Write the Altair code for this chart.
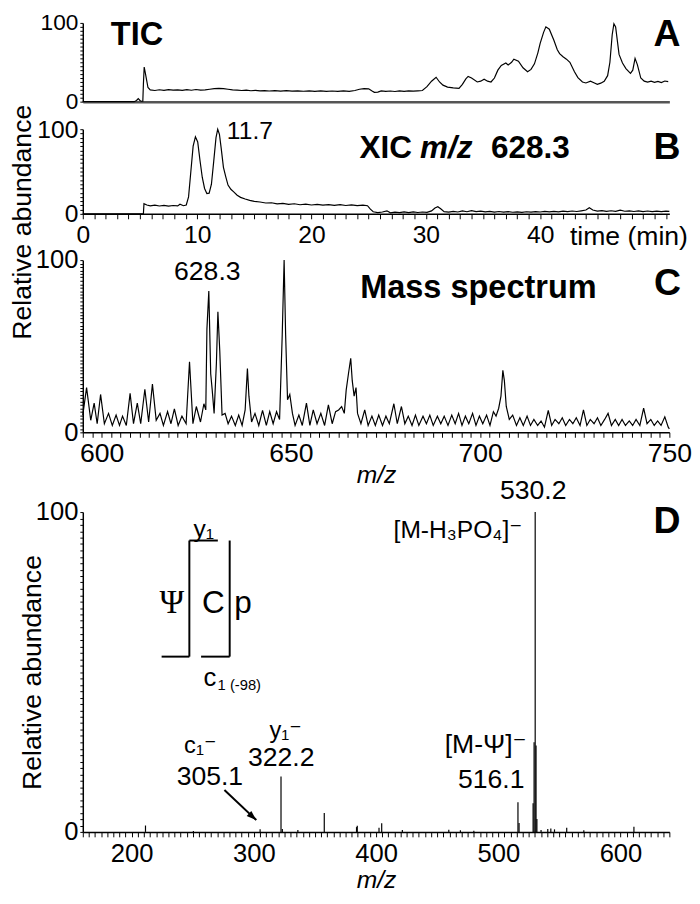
import altair as alt
import pandas as pd

FONT = "Liberation Sans, Arial, Helvetica, DejaVu Sans, sans-serif"
SERIF = "Liberation Serif, Times New Roman, DejaVu Serif, serif"

# ---------------- data ----------------
# Panel A: total ion chromatogram (time min, relative abundance)
tic_points = [
    (0, 0), (4.5, 0), (4.7, 1.5), (4.85, 3.8), (5.0, 1.5), (5.1, 0.5), (5.25, 0.5), (5.3, 22), (5.37, 44),
    (5.45, 38), (5.55, 30), (5.7, 18), (5.9, 15), (6.3, 14.2), (6.7, 15.1), (7.1, 14.4), (7.5, 15.3),
    (7.9, 14.6), (8.3, 15.0), (8.7, 14.3), (9.1, 15.2), (9.5, 14.5), (9.9, 15.4), (10.3, 14.7), (10.7, 15.0),
    (11.1, 15.8), (11.5, 16.5), (11.9, 16.9), (12.3, 16.6), (12.7, 15.8), (13.1, 15.0), (13.5, 14.6),
    (13.9, 14.2), (14.3, 14.6), (14.7, 13.9), (15.1, 14.3), (15.5, 13.6), (15.9, 14.1), (16.3, 13.5),
    (16.8, 14.0), (17.3, 13.4), (17.8, 13.9), (18.3, 13.3), (18.8, 13.8), (19.3, 13.2), (19.8, 13.7),
    (20.3, 13.1), (20.8, 13.6), (21.3, 13.0), (21.8, 13.5), (22.3, 13.0), (22.8, 13.6), (23.3, 13.1),
    (23.8, 14.2), (24.2, 15.8), (24.6, 16.6), (25.0, 16.3), (25.3, 13.5), (25.5, 11.8), (25.8, 12.2),
    (26.1, 13.6), (26.5, 13.0), (26.9, 13.5), (27.3, 12.9), (27.7, 13.6), (28.1, 13.1), (28.5, 13.8),
    (28.9, 13.3), (29.3, 13.7), (29.7, 14.2), (30.1, 19), (30.5, 26), (30.9, 31), (31.2, 25), (31.5, 21),
    (31.9, 18.5), (32.4, 17.5), (32.9, 17), (33.2, 22), (33.5, 29), (33.7, 32), (34.0, 30), (34.5, 25),
    (34.8, 26), (35.1, 28.5), (35.4, 26), (35.7, 25), (36.0, 30), (36.3, 40), (36.6, 46), (37.0, 49),
    (37.2, 46.5), (37.5, 50), (37.7, 54), (38.1, 51.5), (38.5, 43), (38.9, 38), (39.2, 41), (39.5, 48),
    (39.8, 62), (40.0, 74), (40.3, 88), (40.5, 95), (40.8, 92), (41.2, 78), (41.5, 66), (41.7, 61),
    (42.0, 57), (42.3, 54), (42.6, 50), (43.0, 38), (43.3, 30.5), (43.7, 25), (44.0, 23.7), (44.4, 26),
    (44.7, 24), (45.0, 22), (45.3, 23.5), (45.6, 26), (45.9, 33), (46.1, 50), (46.3, 85), (46.45, 99),
    (46.6, 95), (46.9, 60), (47.2, 49), (47.5, 42), (47.9, 36), (48.1, 40), (48.3, 55), (48.5, 47),
    (48.8, 30), (49.1, 26), (49.4, 24.8), (49.7, 26), (50.0, 24.5), (50.3, 25.8), (50.6, 24.2),
    (50.9, 26.2), (51.2, 25.5),
]

# Panel B: extracted ion chromatogram m/z 628.3
xic_points = [
    (0, 0), (5.3, 0), (5.35, 12), (5.6, 10.5), (5.9, 9.5), (6.3, 10.2), (6.7, 9.3), (7.1, 10.0), (7.5, 9.2),
    (7.9, 9.9), (8.3, 9.4), (8.5, 11.3), (8.8, 9.6), (9.05, 10.5), (9.25, 20), (9.45, 50), (9.65, 80),
    (9.85, 91), (10.05, 85), (10.25, 63), (10.45, 43), (10.65, 30), (10.85, 24), (11.05, 24.5),
    (11.25, 35), (11.45, 62), (11.65, 90), (11.8, 100), (11.95, 94), (12.1, 78), (12.3, 55), (12.5, 44),
    (12.7, 34), (12.95, 29), (13.2, 26), (13.5, 22), (13.8, 19.5), (14.2, 17.5), (14.6, 16), (15.0, 14.8),
    (15.5, 14.0), (16.0, 12.8), (16.5, 13.1), (17.0, 11.9), (17.5, 12.4), (18.0, 11.3), (18.5, 11.9),
    (19.0, 10.8), (19.5, 11.5), (20.0, 10.5), (20.5, 11.2), (21.0, 10.3), (21.5, 11.0), (22.0, 10.1),
    (22.5, 10.8), (23.0, 9.9), (23.5, 10.6), (24.0, 9.8), (24.5, 10.4), (24.9, 9.6), (25.15, 5.5),
    (25.4, 2.5), (25.8, 1.5), (26.2, 2.2), (26.6, 3.6), (26.9, 1.2), (27.3, 2.1), (27.7, 1.4), (28.1, 2.3),
    (28.5, 1.5), (28.9, 2.4), (29.3, 1.6), (29.7, 2.2), (30.1, 1.8), (30.5, 3.5), (30.8, 7), (31.05, 8.5),
    (31.3, 6), (31.6, 2.6), (32.0, 2.0), (32.4, 2.9), (32.8, 2.2), (33.2, 3.4), (33.6, 2.5), (34.0, 3.8),
    (34.4, 2.7), (34.8, 3.2), (35.2, 2.3), (35.6, 3.0), (36.0, 2.1), (36.4, 2.8), (36.8, 2.0), (37.2, 2.6),
    (37.6, 1.9), (38.0, 2.4), (38.4, 1.8), (38.8, 2.5), (39.2, 2.0), (39.6, 2.7), (40.0, 2.2), (40.4, 2.9),
    (40.8, 2.3), (41.2, 3.0), (41.6, 2.4), (42.0, 3.2), (42.4, 2.6), (42.8, 3.4), (43.2, 2.8), (43.6, 3.6),
    (44.0, 4.5), (44.3, 7.2), (44.6, 4.6), (45.0, 3.3), (45.4, 3.9), (45.8, 3.0), (46.2, 3.7), (46.6, 2.9),
    (47.0, 4.3), (47.4, 3.1), (47.8, 3.6), (48.2, 2.8), (48.6, 3.5), (49.0, 2.7), (49.4, 3.4), (49.8, 2.6),
    (50.2, 3.3), (50.6, 2.7), (51.0, 3.2), (51.3, 3.0),
]

# Panel C: mass spectrum (m/z, relative abundance)
ms_points = [
    (595.0, 10), (596.0, 26), (597.1, 7), (598.0, 17), (598.8, 5), (599.7, 22), (600.7, 5), (601.8, 11),
    (602.8, 4), (603.8, 10), (604.7, 4), (605.5, 9.4), (606.5, 4), (607.5, 22.6), (608.4, 5), (609.4, 17),
    (610.3, 5), (611.4, 25), (612.4, 6), (613.4, 28), (614.4, 7), (615.4, 11), (616.3, 4), (617.4, 12),
    (618.3, 5), (619.2, 13.6), (620.2, 4), (621.2, 9.4), (622.3, 5), (623.2, 41), (624.1, 5), (625.0, 15),
    (626.1, 6), (627.0, 16.6), (627.5, 13), (627.8, 60), (628.3, 82), (628.8, 34), (629.2, 24.5),
    (629.7, 11), (630.3, 40), (630.7, 70), (631.2, 47), (631.8, 10), (632.6, 11), (633.4, 5), (634.3, 9.4),
    (635.3, 4), (636.2, 10), (637.1, 4), (637.9, 13), (638.5, 37), (638.9, 21), (639.6, 6), (640.5, 11),
    (641.5, 4), (642.5, 12.8), (643.5, 4), (644.4, 12), (645.3, 5), (646.2, 12), (647.0, 7.5),
    (647.7, 56.6), (648.2, 100), (648.6, 56.6), (649.1, 18.9), (649.7, 22), (650.4, 11), (651.1, 4),
    (652.1, 10), (653.0, 4), (654.1, 17), (655.0, 4), (655.9, 13), (656.9, 5), (657.9, 11), (658.9, 4),
    (659.9, 16), (660.9, 5), (661.8, 12), (662.6, 13), (663.4, 15), (664.1, 11), (664.6, 24.5),
    (665.2, 34), (665.8, 43), (666.2, 30), (666.7, 21), (667.2, 26), (667.6, 11), (668.5, 5), (669.5, 13),
    (670.4, 4), (671.4, 9.4), (672.3, 4), (673.2, 10), (674.2, 4), (675.1, 9.4), (676.0, 5), (677.2, 16.6),
    (678.1, 5), (679.2, 15), (680.1, 5), (681.0, 9.4), (682.0, 4), (682.9, 10), (683.8, 4), (684.9, 9.4),
    (685.8, 5), (686.7, 10), (687.6, 4), (688.7, 9.4), (689.6, 5), (690.5, 9.4), (691.5, 4), (692.5, 10),
    (693.4, 5), (694.3, 11), (695.2, 4), (696.1, 9.4), (697.0, 5), (698.0, 11), (698.9, 4), (699.8, 9.4),
    (700.7, 5), (701.7, 10), (702.6, 4), (703.5, 12), (704.2, 9.4), (704.9, 14), (705.5, 21), (706.0, 36),
    (706.4, 30), (706.9, 15), (707.7, 7.5), (708.6, 10), (709.6, 4), (710.5, 8.5), (711.4, 4), (712.4, 9.4),
    (713.3, 4), (714.2, 7.5), (715.2, 4), (716.1, 6.6), (717.0, 3), (718.0, 12.8), (718.9, 4), (719.8, 7.5),
    (720.8, 5), (721.7, 8.5), (722.6, 4), (723.6, 7.5), (724.5, 5), (725.4, 8.5), (726.4, 4), (727.3, 13),
    (728.2, 4), (729.1, 7.5), (730.1, 5), (731.0, 8.5), (731.9, 4), (732.9, 7.5), (733.8, 11), (734.7, 4),
    (735.7, 7.5), (736.6, 4), (737.5, 7.5), (738.4, 4), (739.4, 6.6), (740.3, 4), (741.2, 7.5), (742.2, 4),
    (743.2, 14), (744.1, 5), (745.1, 7.5), (746.0, 4), (746.9, 6.6), (747.8, 4), (748.8, 9), (749.7, 3),
    (750.0, 2),
]

# Panel D: MS/MS spectrum peaks (m/z, relative abundance)
msms_peaks = [
    (211.3, 2.0), (250.5, 0.3), (305.1, 0.8), (322.2, 17.3), (323.3, 0.9), (336.0, 0.6), (357.6, 5.9),
    (384.0, 1.5), (384.6, 1.9), (402.4, 1.3), (404.6, 2.7), (421.5, 0.6), (459.5, 0.7), (469.0, 0.5),
    (480.0, 0.4), (516.1, 9.3), (517.0, 2.8), (528.5, 9.0), (529.3, 28.0), (530.2, 100.0), (530.9, 27.0),
    (531.6, 4.0), (535.0, 0.6), (540.5, 0.9), (543.0, 1.1), (546.0, 0.8), (556.0, 1.3), (570.0, 0.5),
    (611.0, 1.6),
]

# ---------------- layout ----------------
W = 596
HA, HB, HC, HD = 80, 86, 175, 325
GAP_AB, GAP_BC, GAP_CD = 28, 47, 81

sA = alt.Scale(domain=[0, 51.3], nice=False, zero=False)
sC = alt.Scale(domain=[595, 750], nice=False, zero=False)
sD = alt.Scale(domain=[160, 640], nice=False, zero=False)
sY = alt.Scale(domain=[0, 100], nice=False, zero=True)


def y_axis(step, fs, **extra):
    opts = dict(
        values=[i * step for i in range(int(100 / step) + 1)],
        labelExpr="datum.value == 0 || datum.value == 100 ? datum.label : ''",
        labelOverlap=False, tickSize=3, tickWidth=1, tickColor="black",
        domainColor="black", domainWidth=1.5, labelFont=FONT, labelFontSize=fs,
        labelColor="black", labelPadding=2, grid=False, title=None,
    )
    opts.update(extra)
    return alt.Axis(**opts)


def x_axis(values, label_test, fs, **extra):
    opts = dict(
        values=values, labelExpr=f"{label_test} ? datum.label : ''", labelOverlap=False,
        tickSize=5, tickWidth=1, tickColor="black", domainColor="black", domainWidth=1.5,
        labelFont=FONT, labelFontSize=fs, labelColor="black", labelPadding=4, grid=False,
        title=None, labelFlush=False,
    )
    opts.update(extra)
    return alt.Axis(**opts)


def texts(rows, xs, xax, yax, font=FONT, weight="normal", style="normal", align="center",
          baseline="middle"):
    df = pd.DataFrame(rows, columns=["x", "y", "s", "fs"])
    return alt.Chart(df).mark_text(
        font=font, fontWeight=weight, fontStyle=style, align=align, baseline=baseline,
        color="black"
    ).encode(
        x=alt.X("x:Q", scale=xs, axis=xax),
        y=alt.Y("y:Q", scale=sY, axis=yax),
        text="s:N",
        size=alt.Size("fs:Q", scale=None),
    )


def spacer(h):
    return alt.Chart(pd.DataFrame({"z": [0]})).mark_point(opacity=0).encode(
        x=alt.value(0), y=alt.value(0)
    ).properties(width=W, height=h)


# ---- Panel A ----
xaxA = alt.Axis(title=None, labels=False, ticks=False, domainColor="#555555", domainWidth=2.5, grid=False)
yaxA = y_axis(5, 23)
dfA = pd.DataFrame(tic_points, columns=["x", "y"])
lineA = alt.Chart(dfA).mark_line(color="black", strokeWidth=1.2).encode(
    x=alt.X("x:Q", scale=sA, axis=xaxA),
    y=alt.Y("y:Q", scale=sY, axis=yaxA),
)
panelA = alt.layer(
    lineA,
    texts([(4.74, 85, "TIC", 33), (51.1, 84, "A", 38)], sA, xaxA, yaxA, weight="bold"),
).properties(width=W, height=HA)

# ---- Panel B ----
xaxB = x_axis(list(range(0, 52)), "datum.value % 10 == 0 && datum.value <= 40", 25)
yaxB = y_axis(5, 25, title="Relative abundance", titleFont=FONT, titleFontSize=27, titleFontWeight="normal",
              titleColor="black", titleAngle=270, titleX=-61, titleY=94, titleAlign="center",
              titleBaseline="middle")
dfB = pd.DataFrame(xic_points, columns=["x", "y"])
lineB = alt.Chart(dfB).mark_line(color="black", strokeWidth=1.2).encode(
    x=alt.X("x:Q", scale=sA, axis=xaxB),
    y=alt.Y("y:Q", scale=sY, axis=yaxB),
)
panelB = alt.layer(
    lineB,
    texts([(12.6, 97.7, "11.7", 25), (42.6, -27, "time (min)", 27)], sA, xaxB, yaxB, align="left"),
    texts([(24.2, 77.5, "XIC", 32), (35.7, 77.5, "628.3", 32)], sA, xaxB, yaxB, weight="bold", align="left"),
    texts([(29.5, 77.5, "m/z", 32)], sA, xaxB, yaxB, weight="bold", style="italic", align="left"),
    texts([(51.1, 77.5, "B", 38)], sA, xaxB, yaxB, weight="bold"),
).properties(width=W, height=HB)

# ---- Panel C ----
xaxC = x_axis([595 + 2.5 * i for i in range(63)], "datum.value % 50 == 0", 27,
              title="m/z", titleFont=FONT, titleFontSize=25, titleFontStyle="italic",
              titleFontWeight="normal", titleColor="black", titleY=43, titleBaseline="middle")
yaxC = y_axis(2, 26)
dfC = pd.DataFrame(ms_points, columns=["x", "y"])
lineC = alt.Chart(dfC).mark_line(color="black", strokeWidth=1.2).encode(
    x=alt.X("x:Q", scale=sC, axis=xaxC),
    y=alt.Y("y:Q", scale=sY, axis=yaxC),
)
panelC = alt.layer(
    lineC,
    texts([(627.9, 93, "628.3", 27)], sC, xaxC, yaxC),
    texts([(668.3, 83.5, "Mass spectrum", 33)], sC, xaxC, yaxC, weight="bold", align="left"),
    texts([(749.5, 86, "C", 38)], sC, xaxC, yaxC, weight="bold"),
).properties(width=W, height=HC)

# ---- Panel D ----
xaxD = x_axis([160 + 5 * i for i in range(97)], "datum.value % 100 == 0", 26,
              title="m/z", titleFont=FONT, titleFontSize=25, titleFontStyle="italic",
              titleFontWeight="normal", titleColor="black", titleY=48, titleBaseline="middle")
yaxD = y_axis(2, 26, title="Relative abundance", titleFont=FONT, titleFontSize=27, titleFontWeight="normal",
              titleColor="black", titleAngle=270, titleX=-51, titleY=HD / 2, titleAlign="center",
              titleBaseline="middle")
dfD = pd.DataFrame(msms_peaks, columns=["x", "y"])
dfD["b"] = 0.0
peaksD = alt.Chart(dfD).mark_rule(color="black", strokeWidth=1.2).encode(
    x=alt.X("x:Q", scale=sD, axis=xaxD),
    y=alt.Y("y:Q", scale=sY, axis=yaxD),
    y2="b:Q",
)

struct_lines = pd.DataFrame(
    [(247.2, 91.1, 247.2, 54.8), (247.2, 91.1, 270.5, 91.1), (224.5, 54.8, 247.2, 54.8),
     (280.2, 91.1, 280.2, 54.8), (256.8, 54.8, 280.2, 54.8), (275.9, 13.1, 302.0, 3.7)],
    columns=["x", "y", "x2", "y2"],
)
linesD = alt.Chart(struct_lines).mark_rule(color="black", strokeWidth=2).encode(
    x=alt.X("x:Q", scale=sD, axis=xaxD), x2="x2:Q",
    y=alt.Y("y:Q", scale=sY, axis=yaxD), y2="y2:Q",
)
arrow = alt.Chart(pd.DataFrame({"x": [302.0], "y": [3.7]})).mark_point(
    shape="M0,0L-0.7,2L0.7,2Z", filled=True, size=100, angle=132, color="black", opacity=1
).encode(x=alt.X("x:Q", scale=sD, axis=xaxD), y=alt.Y("y:Q", scale=sY, axis=yaxD))

panelD = alt.layer(
    peaksD,
    linesD,
    arrow,
    texts([(528.6, 106.4, "530.2", 27), (259, 94.8, "y₁", 25), (264, 48, "c", 26),
           (326, 31.6, "y₁⁻", 24), (322.4, 23.1, "322.2", 27), (256.1, 26.9, "c₁⁻", 24),
           (264, 17.0, "305.1", 27)], sD, xaxD, yaxD),
    texts([(519.6, 94.2, "[M-H₃PO₄]⁻", 25), (523.2, 27.2, "[M-Ψ]⁻", 27), (521.4, 16.1, "516.1", 27)],
          sD, xaxD, yaxD, align="right"),
    texts([(270.3, 46, "1 (-98)", 15)], sD, xaxD, yaxD, align="left"),
    texts([(266.9, 68.3, "C", 32), (291, 68.3, "p", 32)], sD, xaxD, yaxD, baseline="alphabetic"),
    texts([(232.8, 68.3, "Ψ", 34)], sD, xaxD, yaxD, font=SERIF, baseline="alphabetic"),
    texts([(638, 96.7, "D", 38)], sD, xaxD, yaxD, weight="bold"),
).properties(width=W, height=HD)

chart = alt.VConcatChart(
    vconcat=[panelA, spacer(GAP_AB), panelB, spacer(GAP_BC), panelC, spacer(GAP_CD), panelD],
    spacing=0, bounds="flush",
).properties(
    padding={"left": 0, "top": -3, "right": 0, "bottom": 0}
).configure_view(stroke=None)

chart.save("out.html", embed_options={"renderer": "svg", "actions": False})
